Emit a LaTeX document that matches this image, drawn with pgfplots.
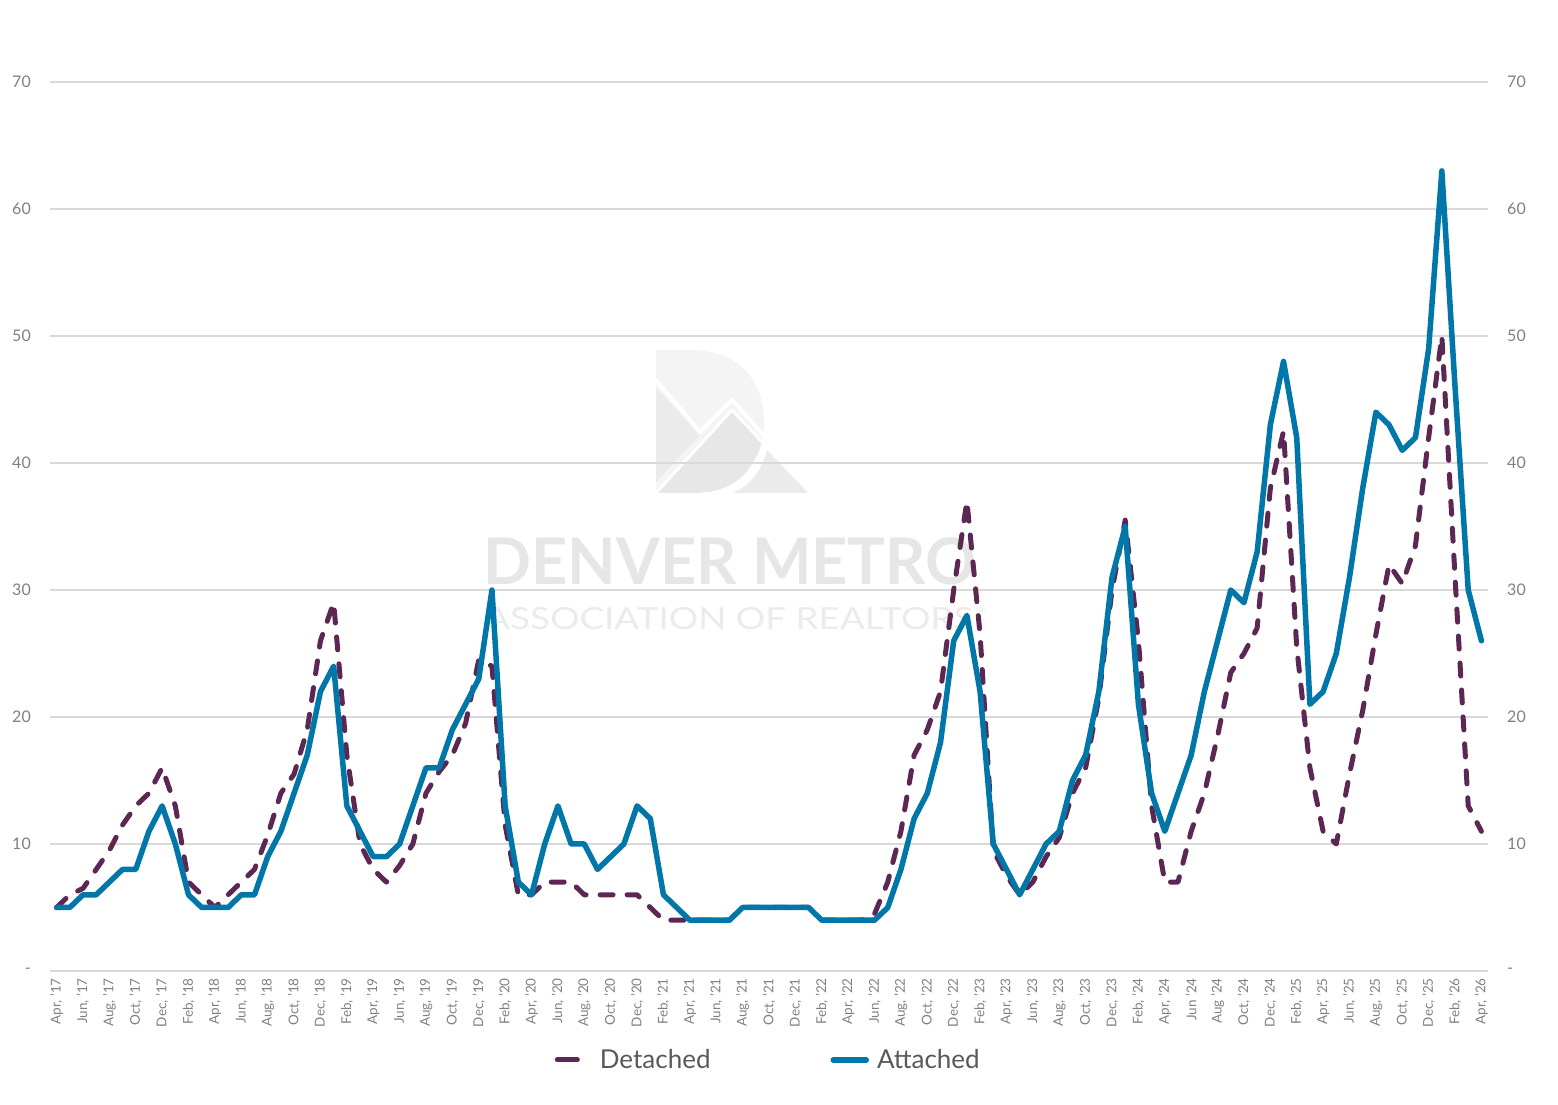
\documentclass[border=0pt]{standalone}
\usepackage{graphicx}
\usepackage{pgfplots}
\usepackage{pgfplotstable}
\pgfplotsset{compat=1.18}
\usepackage{fontspec}
\setmainfont{Lato}
\definecolor{detc}{HTML}{5C2753}
\definecolor{attc}{HTML}{0077A8}
\definecolor{gridc}{HTML}{D9D9D9}
\definecolor{labc}{HTML}{808080}
\definecolor{legc}{HTML}{595959}
\definecolor{wmtext}{HTML}{E6E6E6}
\definecolor{wmtext2}{HTML}{EBEBEB}
\definecolor{wmD}{HTML}{F4F4F4}
\definecolor{wmL}{HTML}{EBEBEB}
\definecolor{wmM}{HTML}{E7E7E7}
\pgfplotsset{
  detleg/.style={legend image code/.code={\draw[##1,solid] (0pt,0pt) -- (20pt,0pt);}},
  attleg/.style={legend image code/.code={\draw[##1] (0pt,0pt) -- (33pt,0pt);}},
}

\pgfplotstableread{
i det att
0 5 5
1 6 5
2 6.5 6
3 8 6
4 9.5 7
5 11.5 8
6 13 8
7 14 11
8 16 13
9 13 10
10 7 6
11 6 5
12 5 5
13 6 5
14 7 6
15 8 6
16 10.7 9
17 14 11
18 15.5 14
19 19 17
20 26 22
21 29 24
22 17 13
23 10 11
24 8 9
25 7 9
26 8.3 10
27 10 13
28 14 16
29 15.7 16
30 17 19
31 19.5 21
32 24.5 23
33 24 30
34 11.5 13
35 6 7
36 6 6
37 7 10
38 7 13
39 7 10
40 6 10
41 6 8
42 6 9
43 6 10
44 6 13
45 5 12
46 4 6
47 4 5
48 4 4
49 4 4
50 4 4
51 4 4
52 5 5
53 5 5
54 5 5
55 5 5
56 5 5
57 5 5
58 4 4
59 4 4
60 4 4
61 4 4
62 4.5 4
63 7 5
64 11 8
65 17 12
66 19 14
67 22 18
68 30 26
69 37 28
70 26.5 22
71 9.5 10
72 7.5 8
73 6 6
74 7 8
75 9 10
76 10.5 11
77 14 15
78 16 17
79 21.5 22
80 30 31
81 35.5 35
82 26 21
83 13 14
84 7 11
85 7 14
86 11 17
87 14 22
88 18.5 26
89 23.5 30
90 25 29
91 27 33
92 38 43
93 42.5 48
94 25.5 42
95 16 21
96 11 22
97 10 25
98 15.5 31
99 20.5 38
100 26.5 44
101 32 43
102 30.5 41
103 33.5 42
104 42 49
105 50 63
106 31 46
107 13 30
108 11 26
}\datatable

\begin{document}
\begin{tikzpicture}[x=1pt,y=1pt]
\useasboundingbox (-50,-134) rectangle (1508,971);
% watermark logo
\fill[wmD] (606,621) -- (640,621) .. controls (690,621) and (714,590) .. (714,548) .. controls (714,505) and (690,478) .. (650,478) -- (606,478) -- cycle;
\fill[wmL] (606,583) -- (650,536) -- (606,489) -- cycle;
\fill[wmM] (607,478) -- (682,561) -- (712,529) .. controls (702,498) and (682,478) .. (650,478) -- cycle;
\fill[wmL] (717,521) -- (758,478) -- (682,478) .. controls (700,485) and (712,500) .. (717,521) -- cycle;
\draw[white, line width=4pt] (604,593) -- (650,539) -- (682,571) -- (716,533);
\draw[white, line width=3pt] (604,476) -- (682,561) -- (714,527);
\draw[white, line width=3pt] (714,529) .. controls (704,497) and (684,478) .. (650,477);
\node[text=wmtext, inner sep=0pt, anchor=south] at (680,386) {\resizebox{493pt}{47pt}{\bfseries DENVER METRO}};
\node[text=wmtext2, inner sep=0pt, anchor=south west] at (435,341) {\resizebox{488pt}{22pt}{ASSOCIATION OF REALTORS}};
\node[text=wmtext2, inner sep=0pt, anchor=south west, font=\fontsize{12}{12}\selectfont] at (926,356) {®};
\begin{axis}[
  at={(0,0)}, anchor=south west,
  scale only axis, width=1438pt, height=889pt,
  xmin=-0.5, xmax=108.5, ymin=0, ymax=70,
  axis line style={draw=none},
  major tick length=0pt,
  ymajorgrids, grid style={gridc, line width=1.2pt},
  ytick={0,10,...,70},
  yticklabels={-,10,20,30,40,50,60,70},
  yticklabel style={font=\fontsize{16}{16}\selectfont, text=labc, inner sep=0pt, anchor=east},
  yticklabel shift=19pt,
  xtick={0,2,...,108},
  xticklabels={{Apr, '17},{Jun, '17},{Aug, '17},{Oct, '17},{Dec, '17},
    {Feb, '18},{Apr, '18},{Jun, '18},{Aug, '18},{Oct, '18},{Dec, '18},
    {Feb, '19},{Apr, '19},{Jun, '19},{Aug, '19},{Oct, '19},{Dec, '19},
    {Feb, '20},{Apr, '20},{Jun, '20},{Aug, '20},{Oct, '20},{Dec, '20},
    {Feb, '21},{Apr, '21},{Jun, '21},{Aug, '21},{Oct, '21},{Dec, '21},
    {Feb, '22},{Apr, '22},{Jun, '22},{Aug, '22},{Oct, '22},{Dec, '22},
    {Feb, '23},{Apr, '23},{Jun, '23},{Aug, '23},{Oct, '23},{Dec, '23},
    {Feb, '24},{Apr, '24},{Jun '24},{Aug '24},{Oct, '24},{Dec, '24},
    {Feb, '25},{Apr, '25},{Jun, '25},{Aug, '25},{Oct, '25},{Dec, '25},
    {Feb, '26},{Apr, '26}},
  xticklabel style={rotate=90, anchor=east, inner sep=0pt, font=\fontsize{13.5}{13.5}\selectfont, text=labc},
  xticklabel shift=7pt,
  legend style={at={(0.4995,-0.1)}, anchor=center, draw=none, fill=none,
    font=\fontsize{26}{26}\selectfont, text=legc,
    /tikz/column 1/.style={column sep=18pt},
    /tikz/column 2/.style={column sep=118pt},
    /tikz/column 3/.style={column sep=6pt}},
  legend columns=2,
  clip=false,
]
\addplot[detc, line width=5pt, dash pattern=on 13pt off 14pt, line cap=round, line join=round, detleg]
  table[x=i,y=det] {\datatable};
\addlegendentry{Detached}
\addplot[attc, line width=5.5pt, line cap=round, line join=round, attleg]
  table[x=i,y=att] {\datatable};
\addlegendentry{Attached}
\end{axis}
\begin{axis}[
  at={(0,0)}, anchor=south west,
  scale only axis, width=1438pt, height=889pt,
  xmin=-0.5, xmax=108.5, ymin=0, ymax=70,
  hide x axis, axis y line*=right,
  axis line style={draw=none},
  major tick length=0pt,
  ytick={0,10,...,70},
  yticklabels={-,10,20,30,40,50,60,70},
  yticklabel style={font=\fontsize{16}{16}\selectfont, text=labc, inner sep=0pt, anchor=west},
  yticklabel shift=19pt,
]
\addplot[draw=none] coordinates {(0,0)};
\end{axis}
\end{tikzpicture}
\end{document}
